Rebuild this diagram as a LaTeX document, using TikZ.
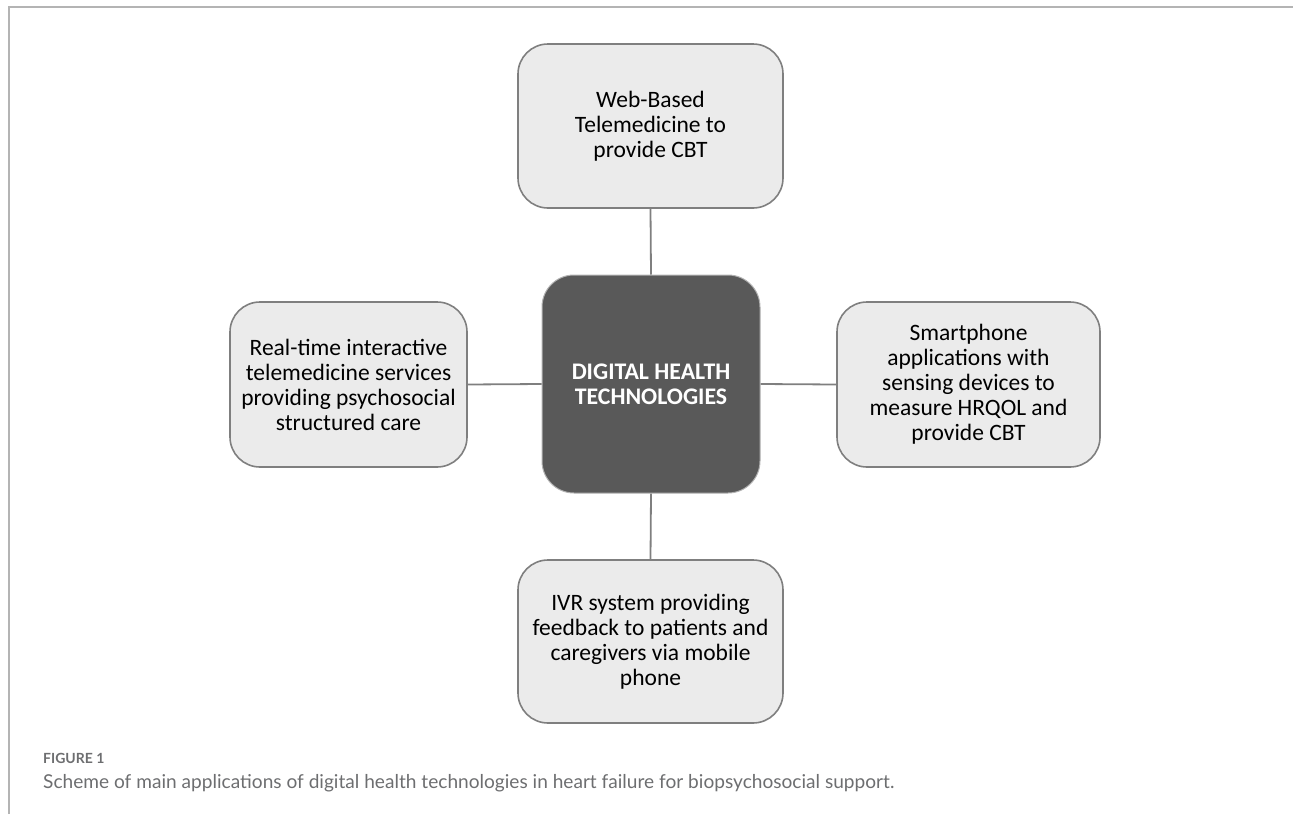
\documentclass[tikz,border=0pt]{standalone}
\usepackage{fontspec}
\setmainfont{Carlito}
\newfontfamily\capfont{Lato}
\begin{document}
\definecolor{boxfill}{HTML}{EBEBEB}
\definecolor{boxline}{HTML}{7F7F7F}
\definecolor{hubfill}{HTML}{595959}
\definecolor{framegray}{HTML}{B4B4B4}
\definecolor{captext}{HTML}{6D6E70}
\begin{tikzpicture}[x=1pt,y=-1pt,
  topic/.style={draw=boxline, line width=1.6pt, fill=boxfill, rounded corners=30pt,
    align=center, inner sep=0pt, font=\fontsize{23.5}{25}\selectfont, text=black},
  hub/.style={draw=boxline!60, line width=1pt, fill=hubfill, rounded corners=32pt,
    align=center, inner sep=0pt, font=\fontsize{23.8}{25}\selectfont\bfseries, text=white,
    minimum width=218pt, minimum height=218pt},
  link/.style={draw=boxline, line width=1.8pt},
  frame/.style={draw=framegray, line width=2pt}]
\useasboundingbox (0,0) rectangle (1293,814);
% page frame
\coordinate (fa) at (9,814);
\coordinate (fb) at (9,6.5);
\coordinate (fc) at (1293,6.5);
\draw[frame] (fa) -- (fb) -- (fc);
% hub and the four application boxes
\node[hub] (hub) at (651,384) {DIGITAL HEALTH\\TECHNOLOGIES};
\node[topic, minimum width=265pt, minimum height=164pt] (top) at (650.5,126) {Web-Based\\Telemedicine to\\provide CBT};
\node[topic, minimum width=237pt, minimum height=165pt] (left) at (348.5,384.5) {Real-time interactive\\telemedicine services\\providing psychosocial\\structured care};
\node[topic, minimum width=263pt, minimum height=165pt] (right) at (968.5,384.5) {Smartphone\\applications with\\sensing devices to\\measure HRQOL and\\provide CBT};
\node[topic, minimum width=265pt, minimum height=163pt] (bottom) at (650.5,641.5) {IVR system providing\\feedback to patients and\\caregivers via mobile\\phone};
% connectors
\draw[link] (top.south) -- (hub.north);
\draw[link] (hub.south) -- (bottom.north);
\draw[link] (left.east) -- (hub.west);
\draw[link] (hub.east) -- (right.west);
% caption
\node[anchor=base west, inner sep=0pt, text=captext, font=\capfont\bfseries\fontsize{14}{16}\selectfont] (figlabel) at (43,763) {FIGURE 1};
\node[anchor=base west, inner sep=0pt, text=captext, font=\capfont\fontsize{19.1}{22}\selectfont] (figcap) at (43,788) {Scheme of main applications of digital health technologies in heart failure for biopsychosocial support.};
\end{tikzpicture}
\end{document}
